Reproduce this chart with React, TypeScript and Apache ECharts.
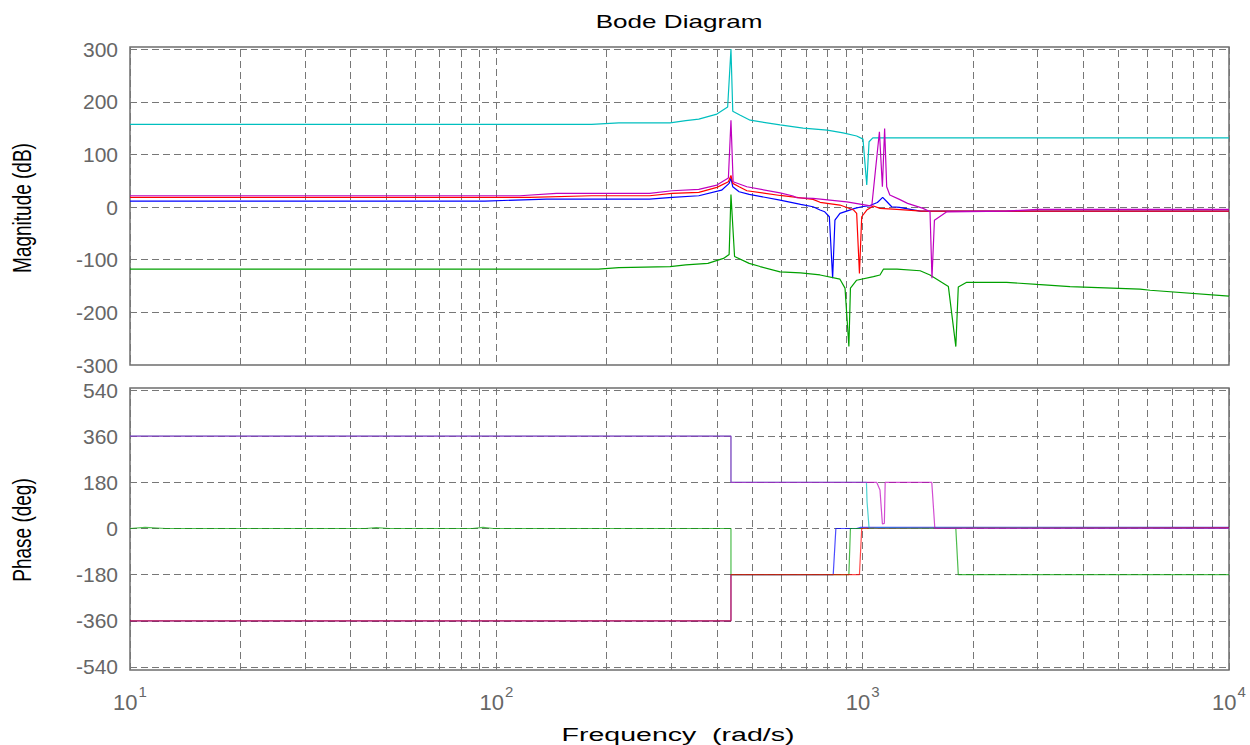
import React, { useEffect, useRef } from 'react';
import * as echarts from 'echarts';

// ---------- data ----------
const magTicks = [-300, -200, -100, 0, 100, 200, 300];
const phaseTicks = [-540, -360, -180, 0, 180, 360, 540];
const magGridLines = [-200, -100, 0, 100, 200, 300];
const phaseGridLines = [-540, -360, -180, 0, 180, 360, 540];
const minorFreqs = [20, 30, 40, 50, 60, 70, 80, 90, 200, 300, 400, 500, 600, 700, 800, 900, 2000, 3000, 4000, 5000, 6000, 7000, 8000, 9000];

// Magnitude (dB) vs frequency (rad/s)
const blueMag: [number, number][] = [
  [10, 11.4], [93, 11.4], [137, 15.2], [262, 15.2], [302, 18.4], [357, 21.5], [412, 32], [432, 45], [437, 55], [442, 38.5],
  [460, 29], [490, 24], [595, 13.3], [677, 5], [732, 0.6], [765, -5.7], [788, -9], [811, -18.4], [828, -135], [840, -25],
  [867, -12], [952, -2.5], [994, 0.6], [1043, 2.5], [1097, 8.6], [1134, 18.4], [1165, 10], [1200, 0.6], [1260, -0.6],
  [1435, -7.6], [10000, -7.6],
];
const greenMag: [number, number][] = [
  [10, -118], [190, -118], [216, -115], [298, -113], [329, -110], [378, -107], [417, -97.6], [432, -90], [437, 24], [447, -94],
  [490, -107], [525, -113], [595, -123], [677, -125], [765, -129], [867, -137], [895, -154], [917, -265], [926, -154],
  [963, -139], [1070, -132], [1115, -129], [1139, -118], [1241, -118], [1435, -121], [1527, -129], [1714, -151],
  [1796, -265], [1824, -152], [1923, -143], [2472, -143], [2988, -147], [3682, -151], [5714, -156], [6090, -158], [10000, -169],
];
const redMag: [number, number][] = [
  [10, 18.4], [123, 18.4], [182, 21.5], [262, 21.5], [302, 26], [357, 28], [400, 37.4], [430, 48], [437, 60], [442, 45],
  [460, 38.5], [483, 31], [595, 22], [732, 14.6], [765, 9], [867, 3.8], [945, -5.7], [963, -12], [980, -126], [994, -18.4],
  [1026, -5.7], [1070, 1.9], [1115, -2.5], [1240, -4.4], [1450, -7.6], [10000, -7.6],
];
const cyanMag: [number, number][] = [
  [10, 157], [182, 157], [216, 160], [298, 160], [329, 164], [357, 167], [400, 176.6], [428, 190], [437, 300], [442, 182],
  [462, 175], [493, 165], [595, 156], [688, 150], [800, 146], [884, 141], [963, 135], [1002, 129], [1026, 42], [1041, 124],
  [1066, 131.5], [10000, 131.5],
];
const magentaMag: [number, number][] = [
  [10, 21.5], [116, 21.5], [146, 26], [262, 26], [302, 31], [357, 33.6], [400, 41.8], [430, 55], [437, 165], [443, 48],
  [483, 38.5], [595, 27], [646, 21], [661, 17.7], [732, 16.5], [905, 10], [984, 5.7], [1059, 1.9], [1111, 143], [1132, 38.5],
  [1148, 149], [1163, 38.5], [1186, 22.8], [1260, 14.6], [1326, 7], [1462, -2.5], [1527, -9], [1546, -135], [1570, -25],
  [1697, -9], [2472, -7.6], [3000, -4.4], [10000, -4.4],
];

// Phase (deg) vs frequency (rad/s)
const bluePhase: [number, number][] = [
  [10, -360], [437, -360], [437, -180], [831, -180], [845, 0], [963, 0], [984, 4], [10000, 4],
];
const greenPhase: [number, number][] = [
  [10, 0], [11, 4], [12.5, 0], [44, 0], [47, 3], [51, 0], [86, 0], [92, 4], [98, 0], [437, 0], [437, -180],
  [917, -180], [926, 0], [1796, 0], [1824, -180], [10000, -180],
];
const redPhase: [number, number][] = [
  [10, -360], [437, -360], [437, -180], [980, -180], [994, 0], [1070, 2], [1100, 0], [2000, 2], [10000, 2],
];
const cyanPhase: [number, number][] = [
  [10, 360], [437, 360], [437, 180], [1024, 180], [1028, 104], [1041, 2], [10000, 0],
];
const magentaPhase: [number, number][] = [
  [10, 360], [437, 360], [437, 180], [1092, 180], [1115, 150], [1132, 18], [1146, 20], [1152, 180], [1544, 180],
  [1574, 0], [10000, 0],
];

const colors = { blue: '#0000ff', green: '#00a000', red: '#ff0000', cyan: '#00bfbf', magenta: '#bf00bf' };

const FONT = '"Liberation Sans", Arial, Helvetica, sans-serif';
const GRID_COLOR = '#777777';
const DASH = [7, 4];

export default function App() {
  const ref = useRef<HTMLDivElement>(null);

  useEffect(() => {
    if (!ref.current) return;
    const chart = echarts.init(ref.current, undefined, { renderer: 'svg' });

    const line = (name: string, data: [number, number][], color: string, idx: number, extra: any = {}) => ({
      name,
      type: 'line',
      xAxisIndex: idx,
      yAxisIndex: idx,
      data,
      showSymbol: false,
      symbol: 'none',
      silent: true,
      z: 3,
      lineStyle: { color, width: 1.2, opacity: idx === 1 ? 0.7 : 1 },
      itemStyle: { color },
      ...extra,
    });

    const gridMarkLine = (yVals: number[]) => ({
      silent: true,
      symbol: ['none', 'none'],
      z: 1,
      label: { show: false },
      emphasis: { disabled: true },
      lineStyle: { type: DASH, color: GRID_COLOR, width: 1 },
      data: [...minorFreqs.map((v) => ({ xAxis: v })), ...yVals.map((v) => ({ yAxis: v }))],
    });

    const xBase = {
      type: 'log',
      logBase: 10,
      min: 10,
      max: 10000,
      axisLine: { show: false },
      axisTick: { show: false },
      splitLine: { show: true, lineStyle: { type: DASH, color: GRID_COLOR, width: 1 } },
    };

    const yLabel = {
      color: '#666',
      fontSize: 21,
      fontFamily: FONT,
      margin: 12,
    };

    chart.setOption({
      animation: false,
      backgroundColor: '#ffffff',
      grid: [
        { left: 130, right: 21, top: 47, height: 318, show: true, borderColor: '#6e6e6e', borderWidth: 1.5, backgroundColor: 'transparent' },
        { left: 130, right: 21, top: 388, height: 282, show: true, borderColor: '#6e6e6e', borderWidth: 1.5, backgroundColor: 'transparent' },
      ],
      xAxis: [
        { ...xBase, gridIndex: 0, axisLabel: { show: false } },
        {
          ...xBase,
          gridIndex: 1,
          axisLabel: {
            show: true,
            margin: 14,
            formatter: (v: number) => '{b|10}{s|' + Math.round(Math.log10(v)) + '}',
            rich: {
              b: { fontSize: 22, color: '#666', fontFamily: FONT },
              s: { fontSize: 15, color: '#666', fontFamily: FONT, padding: [0, 0, 22, 1] },
            },
          },
        },
      ],
      yAxis: [
        {
          type: 'value',
          gridIndex: 0,
          min: -300,
          max: 304,
          axisLine: { show: false },
          axisTick: { show: false },
          splitLine: { show: false },
          axisLabel: { ...yLabel, customValues: magTicks },
        },
        {
          type: 'value',
          gridIndex: 1,
          min: -552,
          max: 548,
          axisLine: { show: false },
          axisTick: { show: false },
          splitLine: { show: false },
          axisLabel: { ...yLabel, customValues: phaseTicks },
        },
      ],
      graphic: [
        {
          type: 'text',
          x: 679,
          y: 22,
          scaleX: 1.45,
          style: { text: 'Bode Diagram', font: `18px ${FONT}`, fill: '#000', textAlign: 'center', textVerticalAlign: 'middle' },
        },
        {
          type: 'text',
          x: 678,
          y: 734,
          scaleX: 1.5,
          style: { text: 'Frequency  (rad/s)', font: `19px ${FONT}`, fill: '#000', textAlign: 'center', textVerticalAlign: 'middle' },
        },
        {
          type: 'text',
          x: 22,
          y: 208,
          rotation: Math.PI / 2,
          scaleY: 1.4,
          style: { text: 'Magnitude (dB)', font: `19px ${FONT}`, fill: '#000', textAlign: 'center', textVerticalAlign: 'middle' },
        },
        {
          type: 'text',
          x: 22,
          y: 530,
          rotation: Math.PI / 2,
          scaleY: 1.4,
          style: { text: 'Phase (deg)', font: `19px ${FONT}`, fill: '#000', textAlign: 'center', textVerticalAlign: 'middle' },
        },
      ],
      series: [
        line('blue-mag', blueMag, colors.blue, 0, { markLine: gridMarkLine(magGridLines) }),
        line('green-mag', greenMag, colors.green, 0),
        line('red-mag', redMag, colors.red, 0),
        line('cyan-mag', cyanMag, colors.cyan, 0),
        line('magenta-mag', magentaMag, colors.magenta, 0),
        line('blue-phase', bluePhase, colors.blue, 1, { markLine: gridMarkLine(phaseGridLines) }),
        line('green-phase', greenPhase, colors.green, 1),
        line('red-phase', redPhase, colors.red, 1),
        line('cyan-phase', cyanPhase, colors.cyan, 1),
        line('magenta-phase', magentaPhase, colors.magenta, 1),
      ],
    });

    return () => chart.dispose();
  }, []);

  return (
    <div
      ref={ref}
      style={{ position: 'fixed', left: 0, top: 0, width: 1250, height: 745, background: '#fff' }}
    />
  );
}
